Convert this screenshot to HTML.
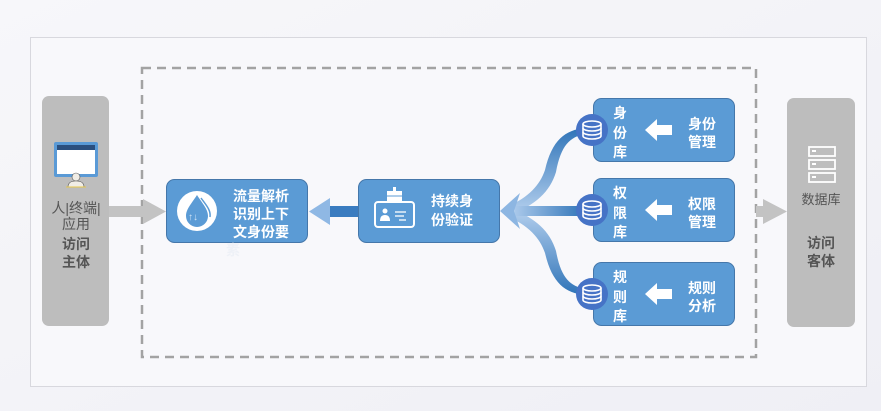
<!DOCTYPE html>
<html><head><meta charset="utf-8"><style>
html,body{margin:0;padding:0;width:881px;height:411px;overflow:hidden;background:#f3f3f7;}
svg{display:block}
text{font-family:"Liberation Sans","Noto Sans CJK SC",sans-serif;}
.w{fill:#fff;font-weight:bold;font-size:14px;}
</style></head><body>
<svg width="881" height="411" viewBox="0 0 881 411" xmlns="http://www.w3.org/2000/svg">
<defs>
<linearGradient id="bg" x1="0" y1="0" x2="1" y2="1"><stop offset="0" stop-color="#f7f7fa"/><stop offset="1" stop-color="#efeff5"/></linearGradient>
<linearGradient id="hz" x1="0" y1="0" x2="1" y2="0"><stop offset="0" stop-color="#a9c8ea"/><stop offset="1" stop-color="#2f74b8"/></linearGradient>
<linearGradient id="up" x1="0" y1="1" x2="0" y2="0"><stop offset="0" stop-color="#b5d0ee"/><stop offset="1" stop-color="#2f74b8"/></linearGradient>
<linearGradient id="dn" x1="0" y1="0" x2="0" y2="1"><stop offset="0" stop-color="#b5d0ee"/><stop offset="1" stop-color="#2f74b8"/></linearGradient>
<linearGradient id="la" x1="0" y1="0" x2="1" y2="0"><stop offset="0" stop-color="#9fc2e8"/><stop offset="0.5" stop-color="#3b7fc2"/><stop offset="1" stop-color="#2f74b8"/></linearGradient>
</defs>
<rect width="881" height="411" fill="url(#bg)"/>
<rect x="30.5" y="37.5" width="836" height="349" fill="#f8f8fb" stroke="#d8d8de"/>
<rect x="142" y="68" width="614" height="289" fill="none" stroke="#a3a3a3" stroke-width="2.5" stroke-dasharray="9,6"/>

<rect x="42" y="96" width="67" height="230" rx="7" fill="#bdbdbd"/>
<rect x="54" y="142" width="44" height="35" rx="2" fill="#5a9ad6"/>
<rect x="57" y="145" width="38" height="29" fill="#fff"/>
<rect x="57" y="145" width="38" height="5" fill="#2b4f7e"/>
<circle cx="76" cy="177" r="4" fill="#f0ede6" stroke="#555" stroke-width="0.6"/>
<path d="M68 187 Q68 181 76 181 Q84 181 84 187 Z" fill="#f0ede6" stroke="#555" stroke-width="0.6"/>
<line x1="66" y1="187" x2="86" y2="187" stroke="#e6c84a" stroke-width="1"/>
<text x="76" y="213" font-size="14" fill="#555" text-anchor="middle">人|终端|</text>
<text x="76" y="229" font-size="14" fill="#555" text-anchor="middle">应用</text>
<text x="76" y="249" font-size="14" font-weight="bold" fill="#555" text-anchor="middle">访问</text>
<text x="76" y="267" font-size="14" font-weight="bold" fill="#555" text-anchor="middle">主体</text>

<rect x="109" y="206" width="40" height="11" fill="#c3c3c3"/>
<polygon points="143,199 166,211.5 143,224" fill="#c3c3c3"/>
<rect x="756" y="206" width="10" height="11" fill="#c3c3c3"/>
<polygon points="763,199 787,211.5 763,224" fill="#c3c3c3"/>

<rect x="166.5" y="179.5" width="141" height="63" rx="8" fill="#5b9bd5" stroke="#4577aa"/>
<circle cx="197" cy="211" r="20" fill="#fff"/>
<path d="M197 195 C192 203 186 209 186 216 A11 11 0 0 0 208 216 C208 209 202 203 197 195 Z" fill="#5b9bd5"/>
<path d="M201 198 C206 205 211 210 210 217" stroke="#5b9bd5" stroke-width="1.5" fill="none"/>
<text x="193" y="220" font-size="10" fill="#cfe2f5" text-anchor="middle">↑↓</text>
<text class="w" x="233" y="201">流量解析</text>
<text class="w" x="233" y="219">识别上下</text>
<text class="w" x="233" y="237">文身份要</text>
<text x="226" y="255" font-size="14" font-weight="bold" fill="#eef1f7">素</text>

<rect x="328" y="206" width="31" height="11" fill="#3a7cc0"/>
<polygon points="309,211.5 330,198 330,225" fill="#8fb8e4"/>

<rect x="358.5" y="179.5" width="141" height="63" rx="8" fill="#5b9bd5" stroke="#4577aa"/>
<rect x="375" y="202" width="39" height="25" rx="3" fill="none" stroke="#fff" stroke-width="2"/>
<rect x="387" y="191" width="15" height="10" fill="#fff"/>
<rect x="393" y="187" width="3" height="4" fill="#fff"/>
<line x1="387" y1="196" x2="402" y2="196" stroke="#5b9bd5" stroke-width="1"/>
<circle cx="385" cy="211" r="2.5" fill="#fff"/>
<path d="M380 221 Q380 215 385 215 Q390 215 390 221 Z" fill="#fff"/>
<line x1="395" y1="212" x2="406" y2="212" stroke="#fff" stroke-width="1.3"/>
<line x1="395" y1="216" x2="404" y2="216" stroke="#fff" stroke-width="1.3"/>
<line x1="399" y1="220" x2="406" y2="220" stroke="#fff" stroke-width="1.3"/>
<text class="w" x="431" y="206">持续身</text>
<text class="w" x="431" y="225">份验证</text>

<path d="M508 206 C528 198 540 185 545 170 C552 140 565 130 585 128 L585 134 C570 137 561 145 556 172 C550 192 535 205 512 214 Z" fill="url(#up)"/>
<path d="M508 217 C528 225 540 238 545 253 C552 283 565 293 585 295 L585 289 C570 286 561 278 556 251 C550 231 535 218 512 209 Z" fill="url(#dn)"/>
<rect x="515" y="206" width="70" height="10" fill="url(#hz)"/>
<polygon points="500,211 520,193 514,211 520,229" fill="#8db6e2"/>

<rect x="593.5" y="98.5" width="141" height="63" rx="8" fill="#5b9bd5" stroke="#4577aa"/>
<rect x="593.5" y="178.5" width="141" height="63" rx="8" fill="#5b9bd5" stroke="#4577aa"/>
<rect x="593.5" y="262.5" width="141" height="63" rx="8" fill="#5b9bd5" stroke="#4577aa"/>
<g id="db">
<circle cx="592" cy="130" r="16" fill="#4673c6"/>
<g fill="none" stroke="#fff" stroke-width="1.6">
<ellipse cx="592" cy="124" rx="9" ry="3"/>
<path d="M583 124 V136 A9 3 0 0 0 601 136 V124"/>
<path d="M583 128 A9 3 0 0 0 601 128"/>
<path d="M583 132 A9 3 0 0 0 601 132"/>
</g>
</g>
<use href="#db" y="80"/>
<use href="#db" y="164"/>
<text class="w" x="613" y="118">身</text><text class="w" x="613" y="138">份</text><text class="w" x="613" y="157">库</text>
<text class="w" x="613" y="198">权</text><text class="w" x="613" y="218">限</text><text class="w" x="613" y="237">库</text>
<text class="w" x="613" y="282">规</text><text class="w" x="613" y="302">则</text><text class="w" x="613" y="321">库</text>
<text class="w" x="688" y="129">身份</text><text class="w" x="688" y="147">管理</text>
<text class="w" x="688" y="209">权限</text><text class="w" x="688" y="227">管理</text>
<text class="w" x="688" y="293">规则</text><text class="w" x="688" y="311">分析</text>
<g id="wa" fill="#fff"><polygon points="645,130 657,119 657,125 672,125 672,135 657,135 657,141"/></g>
<use href="#wa" y="80"/>
<use href="#wa" y="164"/>

<rect x="787" y="98" width="68" height="229" rx="7" fill="#bdbdbd"/>
<g fill="none" stroke="#fff" stroke-width="1.8">
<rect x="809" y="147" width="26" height="9"/>
<rect x="809" y="160" width="26" height="9"/>
<rect x="809" y="173" width="26" height="9"/>
</g>
<g fill="#fff"><rect x="812" y="150" width="4" height="2"/><rect x="812" y="163" width="4" height="2"/><rect x="812" y="176" width="4" height="2"/></g>
<text x="821" y="204" font-size="13" fill="#555" text-anchor="middle">数据库</text>
<text x="821" y="248" font-size="14" font-weight="bold" fill="#555" text-anchor="middle">访问</text>
<text x="821" y="266" font-size="14" font-weight="bold" fill="#555" text-anchor="middle">客体</text>
</svg>
</body></html>
